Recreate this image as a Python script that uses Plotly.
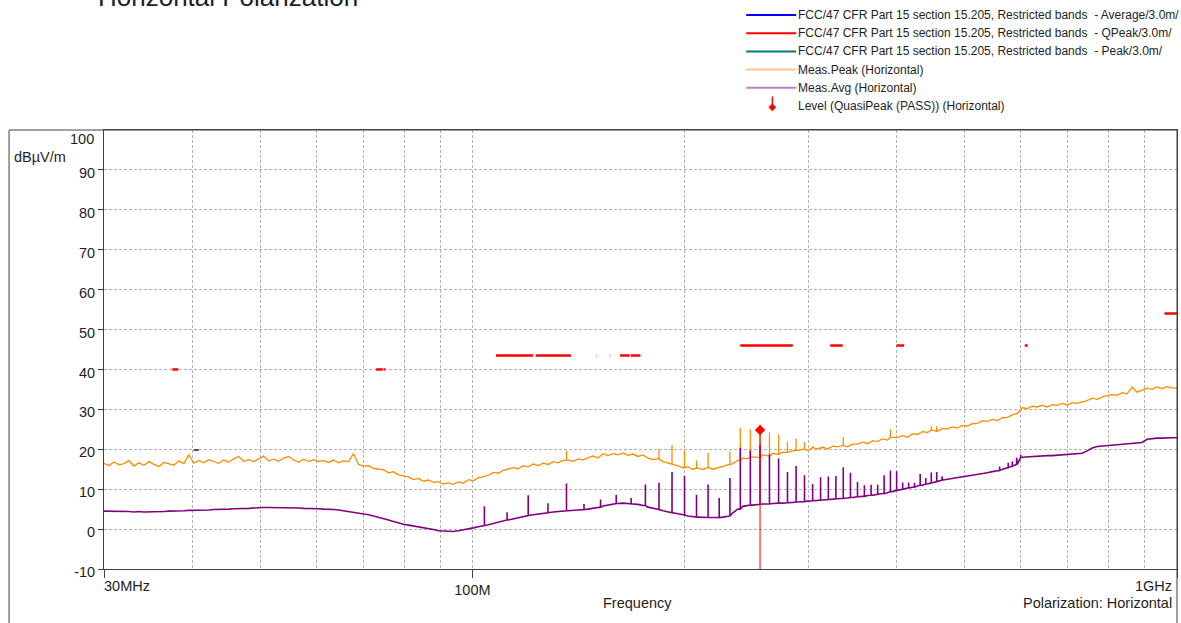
import numpy as np
import plotly.graph_objects as go

# ---------------- measurement data (dBuV/m) ----------------
# Receiver sweep 30 MHz .. 1 GHz, log-spaced points
peak_dbuv = [
    16.5, 15.9, 16.8, 16.1, 16.4, 17.2, 15.8, 16.6, 16.0, 16.9, 16.2, 15.7,
    16.7, 16.3, 16.0, 17.1, 16.4, 18.6, 16.5, 17.2, 16.6, 17.4, 16.9, 16.5,
    17.3, 16.8, 17.6, 18.2, 17.0, 17.4, 16.9, 17.7, 18.3, 17.1, 17.5, 17.0,
    17.8, 18.2, 17.3, 16.8, 17.5, 17.0, 17.4, 16.9, 17.2, 16.7, 17.3, 16.6,
    17.1, 16.9, 18.9, 16.2, 15.8, 15.9, 15.2, 15.0, 14.9, 14.1, 14.4, 13.6,
    13.4, 13.1, 12.4, 12.7, 12.0, 12.3, 11.7, 11.9, 11.3, 11.6, 11.2, 11.8,
    11.5, 12.4, 12.1, 12.9, 13.1, 13.5, 14.2, 14.0, 14.7, 15.0, 15.4, 15.1,
    15.9, 15.6, 16.3, 15.9, 16.5, 16.2, 16.9, 16.6, 17.2, 17.3, 17.0, 17.6,
    17.3, 17.9, 18.3, 17.8, 18.9, 18.4, 18.9, 18.6, 19.1, 18.5, 18.8, 18.2,
    18.6, 17.8, 17.4, 17.6, 16.9, 16.5, 16.3, 15.8, 15.4, 15.6, 15.0, 15.3,
    14.9, 15.4, 15.0, 15.3, 15.7, 16.1, 16.4, 17.2, 17.8, 17.6, 18.1, 17.9,
    18.6, 18.3, 19.0, 18.7, 19.3, 19.2, 19.6, 19.7, 20.1, 19.7, 20.4, 20.1,
    20.5, 20.1, 20.8, 20.6, 21.0, 20.6, 21.3, 21.3, 21.8, 21.4, 22.1, 22.0,
    22.6, 22.3, 23.0, 22.9, 23.4, 23.0, 23.9, 23.7, 24.4, 24.2, 24.8, 24.5,
    25.2, 25.1, 25.6, 25.3, 26.0, 25.8, 26.4, 26.5, 27.1, 27.0, 27.5, 27.2,
    27.9, 28.0, 28.6, 29.0, 30.4, 30.2, 30.8, 30.6, 31.0, 30.6, 31.2, 31.0,
    31.5, 31.1, 31.7, 31.5, 31.9, 32.2, 32.8, 32.5, 33.1, 33.4, 33.7, 33.5,
    34.2, 33.9, 35.6, 34.3, 34.9, 35.3, 35.0, 35.6, 35.2, 35.7, 35.4, 35.3,
]

avg_dbuv = [
    4.5, 4.5, 4.4, 4.5, 4.4, 4.4, 4.3, 4.4, 4.3, 4.3, 4.3, 4.4,
    4.4, 4.5, 4.5, 4.6, 4.6, 4.7, 4.7, 4.7, 4.8, 4.8, 4.9, 4.9,
    5.0, 5.0, 5.1, 5.1, 5.2, 5.2, 5.3, 5.4, 5.4, 5.4, 5.4, 5.3,
    5.4, 5.3, 5.3, 5.3, 5.2, 5.2, 5.1, 5.1, 5.0, 5.0, 4.9, 4.8,
    4.6, 4.4, 4.3, 4.1, 3.9, 3.6, 3.3, 3.0, 2.7, 2.3, 1.9, 1.5,
    1.2, 1.0, 0.8, 0.5, 0.3, 0.1, -0.1, -0.4, -0.5, -0.6, -0.6, -0.4,
    -0.2, 0.1, 0.3, 0.6, 0.9, 1.1, 1.4, 1.7, 2.0, 2.3, 2.6, 2.9,
    3.2, 3.4, 3.6, 3.8, 4.0, 4.1, 4.3, 4.4, 4.5, 4.6, 4.7, 4.8,
    4.9, 5.0, 5.2, 5.5, 5.8, 6.1, 6.3, 6.4, 6.5, 6.4, 6.3, 6.2,
    5.9, 5.5, 5.2, 4.9, 4.6, 4.4, 4.1, 3.8, 3.5, 3.3, 3.1, 3.0,
    2.9, 2.9, 2.9, 2.9, 3.0, 3.3, 4.1, 5.0, 5.7, 5.9, 6.0, 6.2,
    6.3, 6.3, 6.4, 6.5, 6.5, 6.6, 6.7, 6.8, 6.9, 7.0, 7.1, 7.2,
    7.3, 7.4, 7.5, 7.6, 7.7, 7.8, 7.9, 8.1, 8.2, 8.4, 8.5, 8.7,
    8.9, 9.1, 9.4, 9.7, 10.0, 10.3, 10.5, 10.8, 11.0, 11.3, 11.6, 11.9,
    12.3, 12.5, 12.7, 12.9, 13.0, 13.2, 13.4, 13.6, 13.8, 14.1, 14.4, 14.7,
    15.0, 15.4, 15.8, 16.2, 18.0, 18.1, 18.2, 18.2, 18.3, 18.4, 18.4, 18.5,
    18.6, 18.6, 18.7, 18.8, 19.0, 19.6, 20.3, 20.7, 20.8, 20.9, 21.0, 21.1,
    21.2, 21.3, 21.4, 21.5, 21.7, 22.5, 22.7, 22.8, 22.8, 22.9, 22.9, 22.9,
]

# Narrowband emissions (8 MHz clock harmonics) on top of the sweeps
peak_spur_mhz = [136, 184, 192, 200, 208, 216, 232, 240, 248, 256, 264, 272,
                 280, 288, 296, 304, 336, 392, 448, 456]
peak_spur_dbuv = [19.7, 20.0, 21.1, 19.7, 17.2, 19.1, 19.5, 25.3, 25.0, 26.3, 24.2, 23.7,
                  21.9, 22.7, 21.8, 20.8, 23.1, 25.0, 25.8, 25.8]

avg_spur_mhz = [104, 112, 120, 128, 136, 144, 152, 160, 168, 176, 184, 192,
                200, 208, 216, 224, 232, 240, 248, 256, 264, 272, 280, 288,
                296, 304, 312, 320, 328, 336, 344, 352, 360, 368, 376, 384,
                392, 400, 408, 416, 424, 432, 440, 448, 456, 464,
                560, 576, 584, 592, 600]
avg_spur_dbuv = [5.7, 4.2, 8.5, 6.5, 11.4, 6.3, 7.4, 8.6, 7.8, 11.2, 11.6, 14.3,
                 13.3, 8.6, 11.2, 7.8, 12.8, 20.4, 19.7, 21.1, 18.7, 17.7, 14.3, 15.8,
                 13.5, 11.3, 13.0, 13.2, 13.3, 15.5, 14.1, 11.8, 11.0, 11.1, 11.1, 13.5,
                 14.7, 14.5, 11.7, 11.7, 11.6, 13.8, 12.8, 14.2, 14.3, 13.2,
                 15.7, 16.6, 17.0, 17.9, 18.7]

# FCC/47 CFR Part 15 section 15.205 restricted bands, QPeak limit at 3.0 m
band_lo_mhz = [37.5, 73, 74.8, 108, 123, 149.9, 156.52475, 156.7, 162.0125, 167.72,
               240, 322, 399.9, 608, 960]
band_hi_mhz = [38.25, 74.6, 75.2, 121.94, 138, 150.05, 156.52525, 156.9, 167.17, 173.2,
               285, 335.4, 410, 614, 1240]
band_qp_dbuv = [40, 40, 40, 43.5, 43.5, 43.5, 43.5, 43.5, 43.5, 43.5,
                46, 46, 46, 46, 54]

# Short reference mark near 40 MHz
ref_mark_mhz = [40.2, 40.9]
ref_mark_dbuv = [19.8, 19.8]

# Final quasi-peak result
qp_mhz = [256.0]
qp_dbuv = [24.8]

F_START, F_STOP = 30, 1000
Y_MIN, Y_MAX = -10, 100
y_ticks = list(range(-10, 100, 10))
x_grid = [40, 50, 60, 70, 80, 90, 200, 300, 400, 500, 600, 700, 800, 900]

# ---------------- styling ----------------
FONT = 'Arial, "Liberation Sans", sans-serif'
TXT = '#1e1e1e'
AXC = '#404040'
GRIDC = '#b0b0b0'
ORANGE = '#ff8c00'
PURPLE = '#800080'
RED = '#ff0000'

W, H = 1181, 623
ML, MR, MT, MB = 104, 3.5, 130, 54
PW, PH = W - ML - MR, H - MT - MB


def px(xp):
    return (xp - ML) / PW


def py(yp):
    return (H - MB - yp) / PH


def with_spurs(sweep_vals, spur_f, spur_v):
    """Sweep trace with each narrowband emission drawn as a vertical needle
    rising from the nearest sweep reading."""
    sf = np.geomspace(F_START, F_STOP, len(sweep_vals))
    sv = np.asarray(sweep_vals, float)
    xs, ys, keys = list(sf), list(sv), [(f, 0) for f in sf]
    for f, v in zip(spur_f, spur_v):
        base = sv[np.argmin(np.abs(np.log(sf) - np.log(f)))]
        for k, val in enumerate((base, v, base)):
            xs.append(f)
            ys.append(val)
            keys.append((f, k + 1))
    order = sorted(range(len(xs)), key=lambda i: keys[i])
    return [xs[i] for i in order], [ys[i] for i in order]


fig = go.Figure()

pk_f, pk_v = with_spurs(peak_dbuv, peak_spur_mhz, peak_spur_dbuv)
av_f, av_v = with_spurs(avg_dbuv, avg_spur_mhz, avg_spur_dbuv)

fig.add_trace(go.Scatter(x=pk_f, y=pk_v, mode="lines", name="Meas.Peak (Horizontal)",
                         line=dict(color=ORANGE, width=1.3)))
fig.add_trace(go.Scatter(x=av_f, y=av_v, mode="lines", name="Meas.Avg (Horizontal)",
                         line=dict(color=PURPLE, width=1.6)))

# restricted-band limit segments
lx, ly = [], []
for lo, hi, lim in zip(band_lo_mhz, band_hi_mhz, band_qp_dbuv):
    lx += [lo, hi, None]
    ly += [lim, lim, None]
fig.add_trace(go.Scatter(x=lx, y=ly, mode="lines", name="QPeak limit",
                         line=dict(color=RED, width=2.5)))

fig.add_trace(go.Scatter(x=ref_mark_mhz, y=ref_mark_dbuv, mode="lines",
                         line=dict(color="#505050", width=2)))

# quasi-peak level: stem down to the axis floor plus diamond
sx, sy = [], []
for f, v in zip(qp_mhz, qp_dbuv):
    sx += [f, f, None]
    sy += [v, Y_MIN, None]
fig.add_trace(go.Scatter(x=sx, y=sy, mode="lines", line=dict(color=RED, width=1)))
fig.add_trace(go.Scatter(x=qp_mhz, y=qp_dbuv, mode="markers",
                         marker=dict(symbol="diamond", size=8, color=RED)))

grid_common = dict(showgrid=True, gridcolor=GRIDC, gridwidth=1, griddash="3px,2px")

fig.update_layout(
    width=W, height=H,
    margin=dict(l=ML, r=MR, t=MT, b=MB, pad=0),
    paper_bgcolor="white", plot_bgcolor="white",
    showlegend=False,
    font=dict(family=FONT, size=14.5, color=TXT),
    xaxis=dict(
        type="log", range=[np.log10(F_START), np.log10(F_STOP)],
        showline=True, linecolor=AXC, linewidth=1, mirror=True,
        tickvals=[30, 100, 1000], ticktext=["", "100M", ""],
        ticks="outside", ticklen=8, tickcolor=AXC, tickwidth=1,
        zeroline=False,
        minor=dict(tickvals=x_grid, ticks="", **grid_common),
        **grid_common,
    ),
    yaxis=dict(
        range=[Y_MIN, Y_MAX],
        tickvals=y_ticks, ticktext=[str(t) for t in y_ticks],
        ticks="outside", ticklen=5, tickcolor=AXC, tickwidth=1,
        showline=True, linecolor=AXC, linewidth=1, mirror=True,
        zeroline=False, ticklabelshift=3,
        **grid_common,
    ),
)

# outer frame around the chart panel
fig.add_shape(type="rect", xref="paper", yref="paper",
              x0=px(9), x1=1, y0=py(700), y1=1,
              line=dict(color=AXC, width=1), fillcolor="rgba(0,0,0,0)")

ann = []
ann.append(dict(text="Horizontal Polarization", xref="paper", yref="paper",
                x=px(96), y=py(-3), xanchor="left", yanchor="middle",
                showarrow=False, font=dict(size=26, color=TXT)))
ann.append(dict(text="dBµV/m", xref="paper", yref="paper", x=px(12), y=py(157),
                xanchor="left", yanchor="middle", showarrow=False))
ann.append(dict(text="100", xref="paper", yref="y", x=0, y=Y_MAX, xshift=-8, yshift=-9,
                xanchor="right", yanchor="middle", showarrow=False))
ann.append(dict(text="30MHz", xref="x", yref="paper", x=np.log10(F_START), y=py(586),
                xanchor="left", yanchor="middle", xshift=-2, showarrow=False))
ann.append(dict(text="1GHz", xref="x", yref="paper", x=np.log10(F_STOP), y=py(586),
                xanchor="right", yanchor="middle", xshift=-3, showarrow=False))
ann.append(dict(text="Frequency", xref="paper", yref="paper", x=px(638), y=py(603),
                xanchor="center", yanchor="middle", showarrow=False))
ann.append(dict(text="Polarization: Horizontal", xref="paper", yref="paper", x=1, y=py(603),
                xanchor="right", yanchor="middle", xshift=-3, showarrow=False))

# legend block
legend_rows = [
    ("FCC/47 CFR Part 15 section 15.205, Restricted bands \u00a0- Average/3.0m/", "#0000ff", 15.0),
    ("FCC/47 CFR Part 15 section 15.205, Restricted bands \u00a0- QPeak/3.0m/", "#ff0000", 33.2),
    ("FCC/47 CFR Part 15 section 15.205, Restricted bands \u00a0- Peak/3.0m/", "#00806e", 51.4),
    ("Meas.Peak (Horizontal)", "#ffc68a", 69.6),
    ("Meas.Avg (Horizontal)", "#c57ec5", 87.8),
    ("Level (QuasiPeak (PASS)) (Horizontal)", None, 106.2),
]
shapes = []
for text, col, yy in legend_rows:
    if col is not None:
        shapes.append(dict(type="line", xref="paper", yref="paper",
                           x0=px(746.5), x1=px(796.5), y0=py(yy), y1=py(yy),
                           line=dict(color=col, width=2)))
    ann.append(dict(text=text, xref="paper", yref="paper", x=px(796), y=py(yy),
                    xanchor="left", yanchor="middle", showarrow=False,
                    font=dict(size=12, color=TXT)))

# level legend icon: short stem with a diamond foot
cx, cy = 772.7, 107.3
shapes.append(dict(type="line", xref="paper", yref="paper",
                   x0=px(cx), x1=px(cx), y0=py(96.5), y1=py(cy),
                   line=dict(color=RED, width=1.5)))
d = 3.6
shapes.append(dict(type="path", xref="paper", yref="paper",
                   path=(f"M {px(cx)},{py(cy - d)} L {px(cx + d)},{py(cy)} "
                         f"L {px(cx)},{py(cy + d)} L {px(cx - d)},{py(cy)} Z"),
                   fillcolor=RED, line=dict(color=RED, width=0.5)))

for s in shapes:
    fig.add_shape(**s)
fig.update_layout(annotations=ann)

fig.write_html("out.html")
